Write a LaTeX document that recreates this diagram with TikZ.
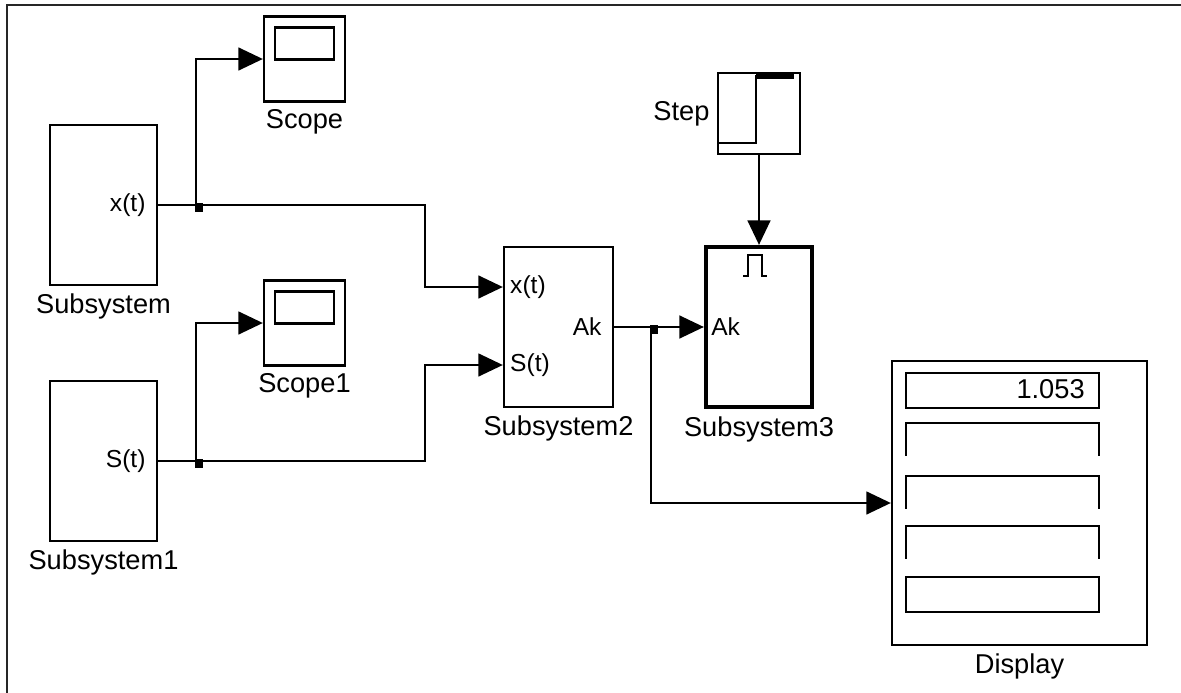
\documentclass[tikz,border=0pt]{standalone}
\usepackage{fontspec}
\setmainfont{Liberation Sans}
\usetikzlibrary{arrows.meta,positioning,calc}

\begin{document}
\begin{tikzpicture}[x=0.02cm, y=-0.02cm,
    every node/.style={font=\fontsize{15.5}{18}\selectfont, inner sep=0pt},
    blk/.style 2 args={draw, line width=1.3pt, minimum width=#1*0.02cm, minimum height=#2*0.02cm},
    port/.style={font=\fontsize{14}{16}\selectfont},
    wire/.style={line width=1.3pt},
    sig/.style={line width=1.3pt, -{Triangle[length=14pt, width=13pt]}}]
    \useasboundingbox (0,0) rectangle (1181,693);
    % frame of the model window
    \draw[line width=1.3pt, black!85] (7,720) -- (7,5) -- (1200,5);

    % blocks
    \node[blk={107}{160}] (sub) at (103.5,205) {};
    \node[blk={107}{160}] (sub1) at (103.5,461) {};
    \node[blk={81}{85}] (scope) at (304.5,59) {};
    \node[blk={81}{85}] (scope1) at (304.5,323) {};
    \node[blk={109}{160}] (sub2) at (558.5,327) {};
    \node[blk={106}{160}, line width=2.4pt] (sub3) at (759,327) {};
    \node[blk={82}{81}] (step) at (759,113.5) {};
    \node[blk={255}{284}] (display) at (1019.5,503) {};

    % block names
    \node[below=4pt of sub] (subl) {Subsystem};
    \node[below=4pt of sub1] (sub1l) {Subsystem1};
    \node[below=3.5pt of scope] (scopel) {Scope};
    \node[below=3.5pt of scope1] (scope1l) {Scope1};
    \node[below=4pt of sub2] (sub2l) {Subsystem2};
    \node[below=4pt of sub3] (sub3l) {Subsystem3};
    \node[left=4pt of step] (stepl) {Step};
    \node[below=4pt of display] (displayl) {Display};

    % ports
    \coordinate (sub2x) at ($(sub2.west)+(0,-40)$);
    \coordinate (sub2s) at ($(sub2.west)+(0,38)$);
    \node[port, anchor=east] (subx) at ([xshift=-7pt]sub.east) {x(t)};
    \node[port, anchor=east] (sub1s) at ([xshift=-7pt]sub1.east) {S(t)};
    \node[port, anchor=west] (sub2xl) at ([xshift=4pt]sub2x) {x(t)};
    \node[port, anchor=west] (sub2sl) at ([xshift=4pt]sub2s) {S(t)};
    \node[port, anchor=east] (sub2ak) at ([xshift=-7pt]sub2.east) {Ak};
    \node[port, anchor=west] (sub3ak) at ([xshift=4pt]sub3.west) {Ak};

    % block icons
    \draw[line width=0.8pt] ($(sub3.south west)+(3.5,-3.5)$) rectangle ($(sub3.north east)+(-3.5,3.5)$);
    \draw[wire] ($(sub3.north)+(-16,31)$) -- ++(5,0) -- ++(0,-21) -- ++(14,0) -- ++(0,21) -- ++(5,0);
    \foreach \s in {scope,scope1}
      \draw[wire] ($(\s.center)+(-29.5,-31.5)$) rectangle ($(\s.center)+(29.5,0.5)$);
    \draw[wire] ($(step.center)+(-42,29.5)$) -- ++(39,0) |- ($(step.center)+(35,-37)$);
    \draw[line width=2.4pt] ($(step.center)+(-3,-37)$) -- ($(step.center)+(35,-37)$);
    \draw[wire] ($(display.north)+(-113.5,13)$) rectangle ++(193,35);
    \foreach \dy in {63,116,166}
      \draw[wire] ($(display.north)+(-113.5,\dy+33)$) -- ++(0,-33) -- ++(193,0) -- ++(0,33);
    \draw[wire] ($(display.north)+(-113.5,217)$) rectangle ++(193,35);
    \node[anchor=east] (val) at ($(display.north)+(65.5,29)$) {1.053};

    % signal lines
    \coordinate (j1) at (196,205);
    \coordinate (j2) at (196,461);
    \coordinate (j3) at (651,327);
    \draw[sig] (sub.east) -- (425,205) |- (sub2x);
    \draw[sig] (sub1.east) -- (425,461) |- (sub2s);
    \draw[sig] (j1) |- (scope.west);
    \draw[sig] (j2) |- (scope1.west);
    \draw[sig] (sub2.east) -- (sub3.west);
    \draw[sig] (j3) |- (display.west);
    \draw[sig] (step.south) -- (sub3.north);
    \foreach \j in {j1,j2,j3}
      \fill (\j) ++(-1,-2) rectangle ++(8,9);
\end{tikzpicture}
\end{document}
